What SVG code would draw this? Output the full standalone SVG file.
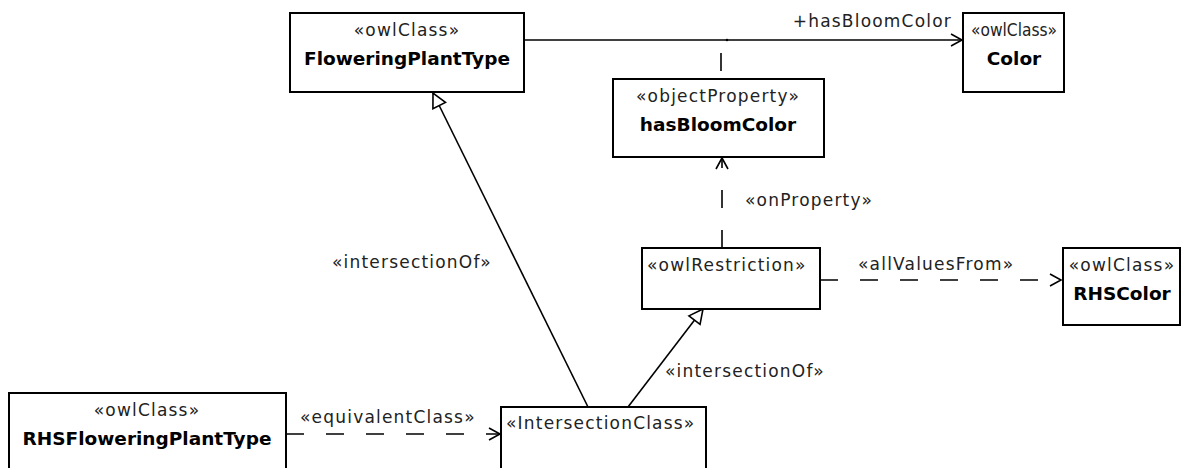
<svg xmlns="http://www.w3.org/2000/svg" width="1196" height="468" viewBox="0 0 1196 468">
<defs>
<style>
.box{fill:#fff;stroke:#000;stroke-width:2}
.st{font-family:"DejaVu Sans","Liberation Sans",sans-serif;font-size:17px;letter-spacing:1.2px;fill:#222}
.nm{font-family:"DejaVu Sans","Liberation Sans",sans-serif;font-size:18.5px;font-weight:bold;fill:#000}
.lbl{font-family:"DejaVu Sans","Liberation Sans",sans-serif;font-size:17px;letter-spacing:1.2px;fill:#222}
.ln{fill:none;stroke:#000;stroke-width:1.6}
.dash{fill:none;stroke:#000;stroke-width:1.6;stroke-dasharray:18 22}
</style>
<marker id="open" markerWidth="14" markerHeight="14" refX="12" refY="7" orient="auto" markerUnits="userSpaceOnUse">
<path d="M1,1 L12,7 L1,13" fill="none" stroke="#000" stroke-width="1.6"/>
</marker>
<marker id="tri" markerWidth="18" markerHeight="18" refX="16" refY="9" orient="auto" markerUnits="userSpaceOnUse">
<path d="M2,2 L16,9 L2,16 Z" fill="#fff" stroke="#000" stroke-width="1.6"/>
</marker>
</defs>
<rect width="1196" height="468" fill="#fff"/>

<g id="connectors">
<line class="ln" x1="524" y1="40" x2="962" y2="40" marker-end="url(#open)"/>
<text class="lbl" x="952" y="27" text-anchor="end">+hasBloomColor</text>
<line class="dash" x1="721" y1="79" x2="721" y2="41" stroke-dashoffset="-8"/>
<circle cx="727" cy="40" r="1.3" fill="#000"/>
<line class="dash" x1="722" y1="248" x2="722" y2="158" marker-end="url(#open)"/>
<text class="lbl" x="745" y="206">«onProperty»</text>
<line class="dash" x1="820" y1="280" x2="1061" y2="280" marker-end="url(#open)"/>
<text class="lbl" x="858" y="270">«allValuesFrom»</text>
<line class="ln" x1="588" y1="407" x2="433" y2="93" marker-end="url(#tri)"/>
<text class="lbl" x="332" y="268">«intersectionOf»</text>
<line class="ln" x1="628" y1="407" x2="703" y2="309" marker-end="url(#tri)"/>
<text class="lbl" x="665" y="377">«intersectionOf»</text>
<line class="dash" x1="286" y1="434" x2="500" y2="434" marker-end="url(#open)"/>
<text class="lbl" x="300" y="423">«equivalentClass»</text>
</g>

<g id="FloweringPlantType">
<rect class="box" x="290" y="13" width="234" height="79"/>
<text class="st" x="407" y="36" text-anchor="middle">«owlClass»</text>
<text class="nm" x="407" y="65" text-anchor="middle">FloweringPlantType</text>
</g>

<g id="Color">
<rect class="box" x="963" y="13" width="101" height="79"/>
<text class="st" x="971" y="36" style="letter-spacing:0" textLength="86" lengthAdjust="spacingAndGlyphs">«owlClass»</text>
<text class="nm" x="1014" y="65" text-anchor="middle">Color</text>
</g>

<g id="hasBloomColor">
<rect class="box" x="613" y="79" width="211" height="78"/>
<text class="st" x="718" y="102" text-anchor="middle">«objectProperty»</text>
<text class="nm" x="718" y="131" text-anchor="middle">hasBloomColor</text>
</g>

<g id="owlRestriction">
<rect class="box" x="642" y="248" width="178" height="61"/>
<text class="st" x="647" y="271">«owlRestriction»</text>
</g>

<g id="RHSColor">
<rect class="box" x="1063" y="248" width="117" height="77"/>
<text class="st" x="1122" y="271" text-anchor="middle">«owlClass»</text>
<text class="nm" x="1122" y="300" text-anchor="middle">RHSColor</text>
</g>

<g id="RHSFloweringPlantType">
<rect class="box" x="9" y="393" width="277" height="80"/>
<text class="st" x="147" y="416" text-anchor="middle">«owlClass»</text>
<text class="nm" x="147" y="445" text-anchor="middle">RHSFloweringPlantType</text>
</g>

<g id="IntersectionClass">
<rect class="box" x="501" y="407" width="205" height="70"/>
<text class="st" x="506" y="429">«IntersectionClass»</text>
</g>
</svg>
